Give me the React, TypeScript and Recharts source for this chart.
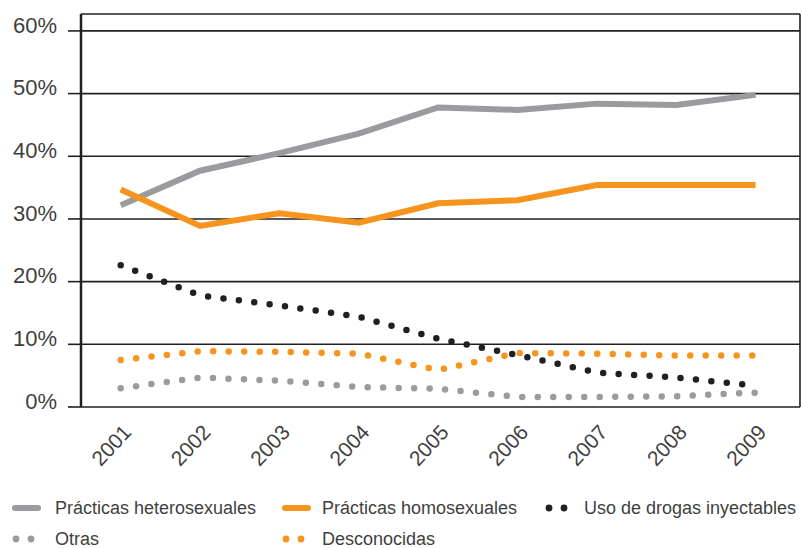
import { CartesianGrid, Legend, Line, LineChart, XAxis, YAxis } from "recharts"

const years = ["2001", "2002", "2003", "2004", "2005", "2006", "2007", "2008", "2009"]
const heterosexuales = [32.2, 37.7, 40.5, 43.6, 47.8, 47.4, 48.4, 48.2, 49.8]
const homosexuales = [34.7, 28.9, 30.9, 29.4, 32.5, 33.0, 35.4, 35.4, 35.4]
const drogas = [22.6, 17.8, 16.2, 14.4, 10.9, 8.3, 5.5, 4.7, 3.4]
const otras = [3.0, 4.7, 4.2, 3.2, 2.9, 1.6, 1.6, 1.7, 2.3]
const desconocidas = [7.5, 8.9, 8.8, 8.5, 5.9, 8.6, 8.5, 8.2, 8.2]
const yTicks = [0, 10, 20, 30, 40, 50, 60]

const INK = "#231f20"
const TEXT = "#3f3f40"
const GREY = "#9a9b9e"
const ORANGE = "#f7941d"

const series = [
  { key: "het", name: "Prácticas heterosexuales", color: GREY, dotted: false },
  { key: "hom", name: "Prácticas homosexuales", color: ORANGE, dotted: false },
  { key: "drg", name: "Uso de drogas inyectables", color: INK, dotted: true },
  { key: "otr", name: "Otras", color: GREY, dotted: true },
  { key: "des", name: "Desconocidas", color: ORANGE, dotted: true },
]

// where each legend entry sits (icon left, text left, row)
const legendSlots = [
  { icon: 12, text: 55, row: 0 },
  { icon: 282, text: 322, row: 0 },
  { icon: 545, text: 584, row: 0 },
  { icon: 12, text: 55, row: 1 },
  { icon: 282, text: 322, row: 1 },
]

const data = years.map((year, i) => ({
  idx: i,
  year,
  het: heterosexuales[i],
  hom: homosexuales[i],
  drg: drogas[i],
  otr: otras[i],
  des: desconocidas[i],
}))

const boundaries = [...years.map((_, i) => i - 0.5), years.length - 0.5]
const centers = years.map((_, i) => i)

function LegendIcon({ color, dotted }: { color: string; dotted: boolean }) {
  return (
    <svg width={30} height={10} style={{ display: "block" }}>
      {dotted ? (
        <>
          <circle cx={4} cy={5} r={3.4} fill={color} />
          <circle cx={19} cy={5} r={3.4} fill={color} />
        </>
      ) : (
        <line x1={3} y1={5} x2={26} y2={5} stroke={color} strokeWidth={6} strokeLinecap="round" />
      )}
    </svg>
  )
}

function renderLegend() {
  return (
    <div style={{ position: "relative", width: 802, height: 62 }}>
      {series.map((s, i) => {
        const slot = legendSlots[i]
        const top = slot.row * 31
        return (
          <div key={s.key}>
            <div style={{ position: "absolute", left: slot.icon, top: top + 11 }}>
              <LegendIcon color={s.color} dotted={s.dotted} />
            </div>
            <div
              style={{
                position: "absolute",
                left: slot.text,
                top,
                lineHeight: "32px",
                fontSize: 18,
                color: TEXT,
                whiteSpace: "nowrap",
              }}
            >
              {s.name}
            </div>
          </div>
        )
      })}
    </div>
  )
}

export default function App() {
  return (
    <div style={{ position: "absolute", left: 0, top: 0, fontFamily: "'Liberation Sans', Arial, sans-serif" }}>
      <LineChart width={802} height={548} data={data} margin={{ top: 14, right: 2, left: 0, bottom: 61 }}>
        <CartesianGrid stroke={INK} strokeWidth={1.6} />
        <XAxis
          type="number"
          dataKey="idx"
          domain={[-0.5, 8.56]}
          ticks={boundaries}
          tick={false}
          tickSize={13}
          height={0}
          stroke={INK}
          tickLine={{ stroke: INK, strokeWidth: 2.5 }}
          axisLine={{ stroke: INK, strokeWidth: 3 }}
        />
        <XAxis
          xAxisId="lbl"
          type="number"
          dataKey="idx"
          domain={[-0.5, 8.56]}
          ticks={centers}
          tickFormatter={(v) => years[v]}
          tickLine={false}
          axisLine={false}
          height={80}
          angle={-47}
          textAnchor="end"
          tickMargin={10}
          tick={{ fill: TEXT, fontSize: 21, dx: 1 }}
        />
        <YAxis
          type="number"
          domain={[0, 62.7]}
          ticks={yTicks}
          width={81}
          tickSize={13}
          tickMargin={11}
          tickFormatter={(v) => `${v}%`}
          tick={{ fill: TEXT, fontSize: 22, dy: -6 }}
          tickLine={{ stroke: INK, strokeWidth: 1.6 }}
          axisLine={{ stroke: INK, strokeWidth: 2.5 }}
        />
        <Legend
          layout="horizontal"
          verticalAlign="middle"
          align="center"
          wrapperStyle={{ top: 492, left: 0 }}
          content={renderLegend}
        />
        {series.map((s) => (
          <Line
            key={s.key}
            type="linear"
            dataKey={s.key}
            name={s.name}
            stroke={s.color}
            strokeWidth={s.dotted ? 6.5 : 6}
            strokeDasharray={s.dotted ? "0 15.5" : undefined}
            strokeLinecap={s.dotted ? "round" : "butt"}
            dot={false}
            activeDot={false}
            isAnimationActive={false}
          />
        ))}
      </LineChart>
    </div>
  )
}
